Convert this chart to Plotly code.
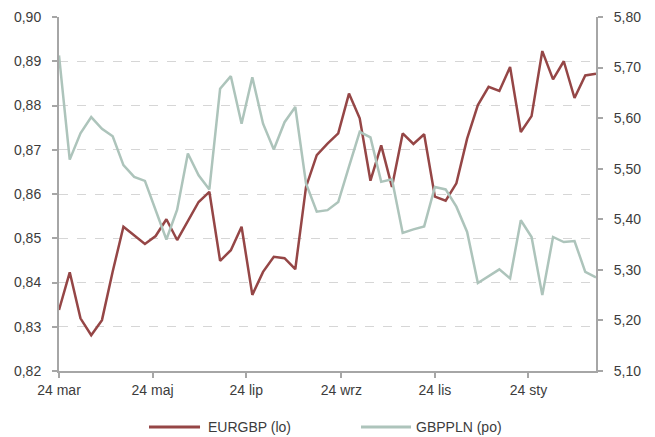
import pandas as pd
import plotly.graph_objects as go

# Weekly observations, 24 Mar 2022 - 9 Mar 2023
dates = pd.date_range("2022-03-24", periods=51, freq="7D")

eurgbp = [
    0.8338, 0.8423, 0.8319, 0.8281, 0.8315, 0.8425, 0.8526, 0.8507, 0.8487, 0.8505,
    0.8543, 0.8496, 0.8540, 0.8582, 0.8605, 0.8449, 0.8473, 0.8526, 0.8372, 0.8424,
    0.8458, 0.8455, 0.8430, 0.8616, 0.8688, 0.8714, 0.8737, 0.8827, 0.8771, 0.8630,
    0.8710, 0.8616, 0.8737, 0.8713, 0.8735, 0.8594, 0.8585, 0.8624, 0.8725, 0.8801,
    0.8842, 0.8833, 0.8887, 0.8740, 0.8776, 0.8923, 0.8859, 0.8900, 0.8817, 0.8868,
    0.8872,
]

gbppln = [
    5.724, 5.518, 5.570, 5.602, 5.579, 5.564, 5.507, 5.484, 5.476, 5.418,
    5.360, 5.419, 5.530, 5.487, 5.459, 5.658, 5.683, 5.589, 5.681, 5.589,
    5.538, 5.592, 5.622, 5.471, 5.415, 5.418, 5.434, 5.504, 5.573, 5.562,
    5.474, 5.479, 5.373, 5.380, 5.386, 5.464, 5.459, 5.425, 5.375, 5.274,
    5.288, 5.301, 5.283, 5.398, 5.365, 5.250, 5.365, 5.355, 5.357, 5.296,
    5.285,
]

tick_dates = ["2022-03-24", "2022-05-24", "2022-07-24", "2022-09-24", "2022-11-24", "2023-01-24"]
tick_labels = ["24 mar", "24 maj", "24 lip", "24 wrz", "24 lis", "24 sty"]

series_names = ["EURGBP (lo)", "GBPPLN (po)"]
series_colors = ["#954646", "#adc4bb"]

AXIS_GRAY = "#a6a6a6"
TEXT = "#3c3c3c"
FONT = "Liberation Sans"

fig = go.Figure()
fig.add_trace(go.Scatter(
    x=dates, y=eurgbp, name=series_names[0], mode="lines",
    line=dict(color=series_colors[0], width=2.5),
))
fig.add_trace(go.Scatter(
    x=dates, y=gbppln, name=series_names[1], mode="lines", yaxis="y2",
    line=dict(color=series_colors[1], width=2.5),
))

# Legend drawn below the plot: a line sample followed by the series name
legend_y = -0.158
legend_slots = [(0.1676, 0.2626, 0.2737), (0.5624, 0.6555, 0.661)]
for (x0, x1, xt), name, color in zip(legend_slots, series_names, series_colors):
    fig.add_shape(type="line", xref="paper", yref="paper",
                  x0=x0, x1=x1, y0=legend_y, y1=legend_y,
                  line=dict(color=color, width=3))
    fig.add_annotation(xref="paper", yref="paper", x=xt, y=legend_y,
                       text=name, showarrow=False, xanchor="left", yanchor="middle",
                       font=dict(family=FONT, size=14, color=TEXT))

fig.update_layout(
    width=655, height=437,
    margin=dict(l=59, r=59, t=17, b=66, autoexpand=False),
    paper_bgcolor="white", plot_bgcolor="white",
    separators=", ",
    font=dict(family=FONT, size=14, color=TEXT),
    showlegend=False,
    xaxis=dict(
        type="date", range=[dates[0], dates[-1]],
        tickvals=tick_dates, ticktext=tick_labels,
        showgrid=False, zeroline=False,
        showline=True, linecolor=AXIS_GRAY, linewidth=1.5,
        ticks="outside", ticklen=5, tickcolor=AXIS_GRAY, tickwidth=1.5,
        ticklabelstandoff=0,
    ),
    yaxis=dict(
        range=[0.82, 0.90], dtick=0.01, tick0=0.82, tickformat=".2f",
        showgrid=True, gridcolor="#d6d6d6", griddash="dash", gridwidth=1,
        zeroline=False,
        showline=True, linecolor=AXIS_GRAY, linewidth=2,
        ticks="outside", ticklen=5, tickcolor=AXIS_GRAY, tickwidth=1.5,
        ticklabelstandoff=8,
    ),
    yaxis2=dict(
        overlaying="y", side="right",
        range=[5.10, 5.80], dtick=0.1, tick0=5.1, tickformat=".2f",
        showgrid=False, zeroline=False,
        showline=True, linecolor=AXIS_GRAY, linewidth=2,
        ticks="outside", ticklen=5, tickcolor=AXIS_GRAY, tickwidth=1.5,
        ticklabelstandoff=8,
    ),
)

fig.write_html("out.html")
